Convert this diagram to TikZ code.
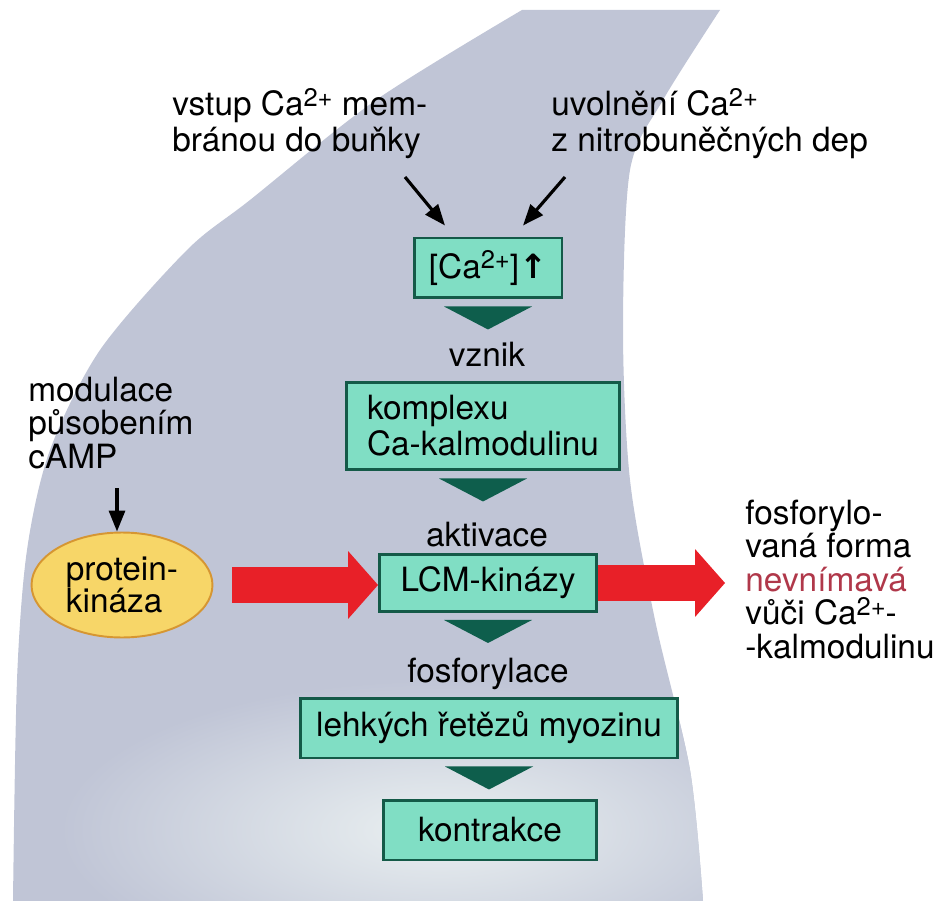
\documentclass[tikz,border=0pt]{standalone}
\usepackage{fontspec}
\setmainfont{TeX Gyre Heros}
\newfontfamily\symfont{DejaVu Sans}
\usetikzlibrary{arrows.meta,positioning,calc,shapes.geometric}
\definecolor{cellgrey}{RGB}{192,197,214}
\definecolor{celllight}{RGB}{234,240,241}
\definecolor{boxfill}{RGB}{128,222,196}
\definecolor{boxline}{RGB}{20,90,72}
\definecolor{wedgegreen}{RGB}{14,94,76}
\definecolor{kinred}{RGB}{232,32,40}
\definecolor{pkfill}{RGB}{247,214,104}
\definecolor{pkline}{RGB}{214,150,50}
\definecolor{rosetext}{RGB}{176,56,74}
\newcommand\ionch[1]{\raisebox{0.55ex}{\fontsize{14.5}{14.5}\selectfont #1}}

\begin{document}
\begin{tikzpicture}[
  x=0.02cm, y=-0.02cm,
  font=\fontsize{19}{20.5}\selectfont,
  box/.style={draw=boxline, fill=boxfill, line width=1.7pt, align=center, inner sep=0pt},
  note/.style={align=left, inner sep=0pt, anchor=base west},
  side/.style={note, font=\fontsize{19}{19}\selectfont},
  step label/.style={anchor=base, inner sep=0pt},
  wedge/.style={fill=wedgegreen},
  arrow/.style={-{Triangle[length=4.2mm,width=3.2mm]}, line width=1.8pt},
  bigarrow/.style={-{Triangle[length=6mm,width=13.6mm,line width=0pt]}, line width=7.2mm, kinred}
]
\useasboundingbox (0,0) rectangle (945,901);

\path[fill=cellgrey] plot[smooth] coordinates {(720,10) (663,100) (630,170) (623,330) (630,480) (655,620) (690,770) (703,901)}
  -- plot[smooth] coordinates {(13,901) (17,680) (27,550) (50,450) (100,350) (187,250) (250,200) (376,100) (522,10)} -- cycle;
\begin{scope}
  \clip plot[smooth] coordinates {(720,10) (663,100) (630,170) (623,330) (630,480) (655,620) (690,770) (703,901)}
    -- plot[smooth] coordinates {(13,901) (17,680) (27,550) (50,450) (100,350) (187,250) (250,200) (376,100) (522,10)} -- cycle;
  \shade[inner color=celllight, outer color=cellgrey] (440,830) ellipse (380 and 150);
\end{scope}

\node[note] (vstup) at (172,152) {vstup Ca\ionch{2+} mem-\\bránou do buňky};
\node[note] (uvol) at (551,152) {uvolnění Ca\ionch{2+}\\z nitrobuněčných dep};
\node[side] (modul) at (28,468) {modulace\\působením\\cAMP};
\node[side] (form) at (745,658) {fosforylo-\\vaná forma\\\textcolor{rosetext}{nevnímavá}\\vůči Ca\ionch{2+}-\\-kalmodulinu};

\node[box, minimum width=2.96cm, minimum height=1.2cm] (ca) at (488,268) {[Ca\ionch{2+}]{\symfont\bfseries ↑}};
\node[step label] (vznik) at (487,367) {vznik};
\node[box, minimum width=5.46cm, minimum height=1.76cm, align=left] (kx) at (483,426) {komplexu\\Ca-kalmodulinu};
\node[step label] (aktiv) at (487,546) {aktivace};
\node[box, minimum width=4.34cm, minimum height=1.14cm] (lcm) at (488,583) {LCM-kinázy};
\node[step label] (fosf) at (488,682) {fosforylace};
\node[box, minimum width=7.56cm, minimum height=1.2cm] (lc) at (489,728) {lehkých řetězů myozinu};
\node[box, minimum width=4.28cm, minimum height=1.2cm] (kon) at (490,830) {kontrakce};

\node[ellipse, draw=pkline, fill=pkfill, line width=1.1pt, minimum width=3.62cm, minimum height=2.1cm, align=left, inner sep=0pt, font=\fontsize{19}{18.6}\selectfont] (pk) at (122,585) {protein-\\kináza};

\foreach \n in {ca,kx,lcm,lc}
  \fill[wedge] ($(\n.south)+(-44,7)$) -- ($(\n.south)+(44,7)$) -- ($(\n.south)+(0,30)$) -- cycle;

\coordinate (vs) at (405,177);
\coordinate (uv) at (565,177);
\coordinate (cm) at (117,488);
\coordinate (out) at (725,583);
\draw[arrow] (vs) -- ($(ca.north)+(-43,-11)$);
\draw[arrow] (uv) -- ($(ca.north)+(35,-11)$);
\draw[arrow] (cm) -- (cm |- pk.north);
\draw[bigarrow, shorten <=0.38cm] (pk.east) -- (pk.east -| lcm.west);
\draw[bigarrow] (lcm.east) -- (out);
\end{tikzpicture}
\end{document}
